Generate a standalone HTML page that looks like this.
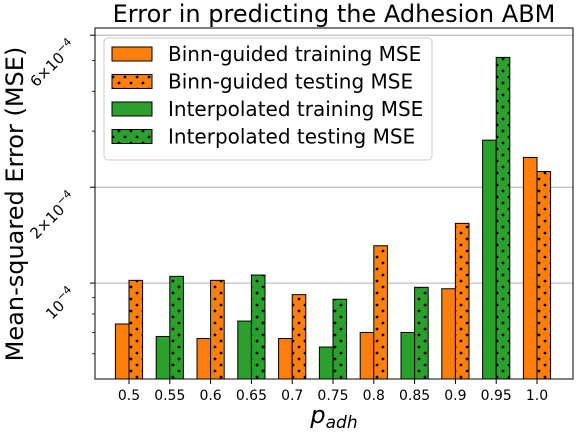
<!DOCTYPE html>
<html><head><meta charset="utf-8"><style>body{margin:0;background:#fff}svg{display:block;font-family:"DejaVu Sans","Liberation Sans",sans-serif}</style></head>
<body>
<svg id="chart" width="576" height="432" xmlns="http://www.w3.org/2000/svg">
<defs>
<pattern id="dots" patternUnits="userSpaceOnUse" width="12" height="12" x="2" y="2">
<circle cx="3" cy="3" r="1.4" fill="#000"/><circle cx="9" cy="9" r="1.4" fill="#000"/>
</pattern>
</defs>
<text x="334" y="22" font-size="24" text-anchor="middle">Error in predicting the Adhesion ABM</text>
<g id="grid"></g>
<g id="bars"></g>
<g id="axes"></g>
<text transform="translate(23,204) rotate(-90)" font-size="24" text-anchor="middle">Mean-squared Error (MSE)</text>
<text x="334" y="423" font-size="24" text-anchor="middle" font-style="italic">p<tspan font-size="17" dy="5">adh</tspan></text>
<g>
<rect x="104" y="38" width="328" height="122" rx="4" fill="#fff" fill-opacity="0.8" stroke="#ccc"/>
<g id="legend"></g>
</g>
</svg>
<script>
const categories=["0.5","0.55","0.6","0.65","0.7","0.75","0.8","0.85","0.9","0.95","1.0"];
const trainMSE=[7.44e-5,6.8e-5,6.7e-5,7.6e-5,6.7e-5,6.3e-5,7.0e-5,7.0e-5,9.6e-5,2.81e-4,2.48e-4];
const testMSE=[1.02e-4,1.05e-4,1.02e-4,1.06e-4,0.92e-4,0.89e-4,1.31e-4,0.97e-4,1.54e-4,5.11e-4,2.24e-4];
const methods=["binn","interp","binn","interp","binn","interp","binn","interp","binn","interp","binn"];
const majorTicks=[1e-4,2e-4,6e-4];
const majorLabels=[["10","−4"],["2×10","−4"],["6×10","−4"]];
const minorTicks=[6e-5,7e-5,8e-5,9e-5,3e-4,4e-4,5e-4];
const legendLabels=["Binn-guided training MSE","Binn-guided testing MSE","Interpolated training MSE","Interpolated testing MSE"];
const NS="http://www.w3.org/2000/svg";
const L=95,R=573,T=28,B=379;
const yMin=5e-5,yMax=6.32e-4;
function y(v){return B-(Math.log10(v)-Math.log10(yMin))/(Math.log10(yMax)-Math.log10(yMin))*(B-T);}
const step=40.8,x0=129;
function x(i){return x0+i*step;}
const bw=13.6;
const colors={binn:"#ff7f0e",interp:"#2ca02c"};
function mk(tag,attrs,parent){const e=document.createElementNS(NS,tag);for(const k in attrs)e.setAttribute(k,attrs[k]);parent.appendChild(e);return e;}
const grid=document.getElementById('grid'),bars=document.getElementById('bars'),axes=document.getElementById('axes');
majorTicks.forEach((v,i)=>{
  const g=mk('line',{x1:L,x2:R,y1:y(v),y2:y(v),stroke:"#b0b0b0","stroke-width":1},grid);
  
  
  mk('line',{x1:L-5,x2:L,y1:y(v),y2:y(v),stroke:"#000","stroke-width":1},axes);
  const t=mk('text',{transform:`translate(${L-18},${y(v)+12}) rotate(-45)`,"font-size":15,"text-anchor":"end"},axes);
  
  
  t.textContent=majorLabels[i][0];
  const s=mk('tspan',{"font-size":11,dy:-7},t);s.textContent=majorLabels[i][1];
});
minorTicks.forEach(v=>{mk('line',{x1:L-3,x2:L,y1:y(v),y2:y(v),stroke:"#000","stroke-width":0.8},axes);});
categories.forEach((c,i)=>{
  const col=colors[methods[i]];
  const yt=y(trainMSE[i]);
  const b1=mk('rect',{x:x(i)-bw,y:yt,width:bw,height:B-yt,fill:col,stroke:"#000","stroke-width":1},bars);
  
  
  const ys=y(testMSE[i]);
  const b2=mk('rect',{x:x(i),y:ys,width:bw,height:B-ys,fill:col,stroke:"#000","stroke-width":1},bars);
  
  
  mk('rect',{x:x(i),y:ys,width:bw,height:B-ys,fill:"url(#dots)"},bars);
  mk('line',{x1:x(i),x2:x(i),y1:B,y2:B+5,stroke:"#000"},axes);
  const t=mk('text',{x:x(i),y:B+21,"font-size":14,"text-anchor":"middle"},axes);
  
  
  t.textContent=c;
});
const fr=mk('rect',{x:L,y:T,width:R-L,height:B-T,fill:"none",stroke:"#000","stroke-width":1},axes);


const lg=document.getElementById('legend');
const lcol=["#ff7f0e","#ff7f0e","#2ca02c","#2ca02c"];
legendLabels.forEach((lab,i)=>{
  const yy=47+i*27.5;
  const p=mk('rect',{x:112,y:yy,width:40,height:14,fill:lcol[i],stroke:"#000","stroke-width":1},lg);
  
  
  if(i%2==1)mk('rect',{x:112,y:yy,width:40,height:14,fill:"url(#dots)"},lg);
  const t=mk('text',{x:168,y:yy+14,"font-size":20},lg);
  
  
  t.textContent=lab;
});
</script>
</body></html>
